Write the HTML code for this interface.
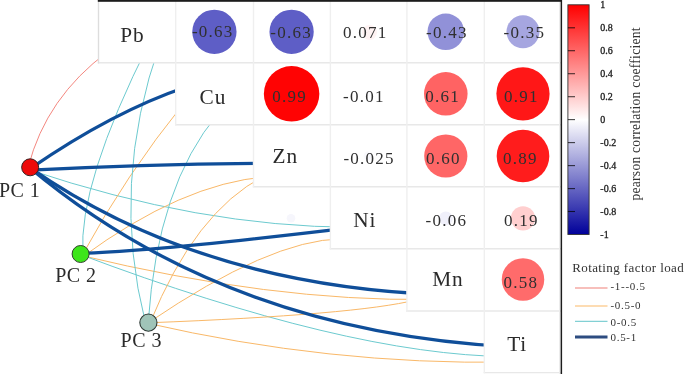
<!DOCTYPE html><html><head><meta charset="utf-8"><style>html,body{margin:0;padding:0;background:#fff;}svg{display:block;}text{font-family:"Liberation Serif", "Times New Roman", serif;}</style></head><body>
<svg width="685" height="374" viewBox="0 0 685 374">
<rect width="685" height="374" fill="#fff"/>
<path d="M28.3 166.8Q46.2 97.4 107.7 51.8" fill="none" stroke="#f4877f" stroke-width="1.0"/>
<path d="M28.7 169.6Q199.4 226.9 353.1 227.3" fill="none" stroke="#6ccacf" stroke-width="1.0"/>
<path d="M82.9 254.6Q78.1 183.9 149.6 42.2" fill="none" stroke="#6ccacf" stroke-width="1.0"/>
<path d="M82.2 255.3Q126.0 174.8 184.4 102.6" fill="none" stroke="#f9b868" stroke-width="1.0"/>
<path d="M82.2 257.1Q182.2 183.6 266.1 176.8" fill="none" stroke="#f9b868" stroke-width="1.0"/>
<path d="M79.7 255.1Q272.3 301.7 429.5 299.4" fill="none" stroke="#f9b868" stroke-width="1.0"/>
<path d="M79.0 254.0Q346.8 355.0 507.4 356.6" fill="none" stroke="#6ccacf" stroke-width="1.0"/>
<path d="M145.5 323.0Q110.0 184.0 160.3 42.7" fill="none" stroke="#6ccacf" stroke-width="1.0"/>
<path d="M148.2 322.5Q157.4 185.5 218.0 113.8" fill="none" stroke="#6ccacf" stroke-width="1.0"/>
<path d="M150.0 323.0Q195.0 212.0 263.6 176.3" fill="none" stroke="#f9b868" stroke-width="1.0"/>
<path d="M148.7 322.5Q270.3 239.9 340.8 238.9" fill="none" stroke="#f9b868" stroke-width="1.0"/>
<path d="M148.5 322.8Q356.3 314.8 415.7 300.0" fill="none" stroke="#f9b868" stroke-width="1.0"/>
<path d="M146.9 323.1Q329.6 365.1 509.9 362.1" fill="none" stroke="#f9b868" stroke-width="1.0"/>
<path d="M30.6 168.4Q113.0 111.6 186.8 86.7" fill="none" stroke="#0f4e99" stroke-width="3.3"/>
<path d="M30.3 170.2Q145.9 164.0 272.1 163.2" fill="none" stroke="#0f4e99" stroke-width="3.3"/>
<path d="M29.9 167.6Q199.6 285.8 441.8 294.7" fill="none" stroke="#0f4e99" stroke-width="3.3"/>
<path d="M29.7 167.8Q231.6 336.6 527.7 347.5" fill="none" stroke="#0f4e99" stroke-width="3.3"/>
<path d="M80.5 253.3Q151.3 251.8 360.3 226.7" fill="none" stroke="#0f4e99" stroke-width="3.3"/>
<polygon points="98.5,0.0 561.0,0.0 561.0,374.0 484.3,374.0 484.3,311.0 406.9,311.0 406.9,248.8 330.4,248.8 330.4,186.7 253.5,186.7 253.5,124.7 175.7,124.7 175.7,62.8 98.5,62.8" fill="#fff"/>
<line x1="97.8" y1="62.8" x2="561.0" y2="62.8" stroke="#e8e8e8" stroke-width="1.4"/>
<line x1="175.0" y1="124.7" x2="561.0" y2="124.7" stroke="#e8e8e8" stroke-width="1.4"/>
<line x1="252.8" y1="186.7" x2="561.0" y2="186.7" stroke="#e8e8e8" stroke-width="1.4"/>
<line x1="329.7" y1="248.8" x2="561.0" y2="248.8" stroke="#e8e8e8" stroke-width="1.4"/>
<line x1="406.2" y1="311.0" x2="561.0" y2="311.0" stroke="#e8e8e8" stroke-width="1.4"/>
<line x1="483.6" y1="372.6" x2="561.0" y2="372.6" stroke="#e8e8e8" stroke-width="1.4"/>
<line x1="98.5" y1="0" x2="98.5" y2="63.5" stroke="#dddddd" stroke-width="1.4"/>
<line x1="175.7" y1="0" x2="175.7" y2="125.4" stroke="#efefef" stroke-width="1.4"/>
<line x1="253.5" y1="0" x2="253.5" y2="187.4" stroke="#efefef" stroke-width="1.4"/>
<line x1="330.4" y1="0" x2="330.4" y2="249.5" stroke="#efefef" stroke-width="1.4"/>
<line x1="406.9" y1="0" x2="406.9" y2="311.7" stroke="#efefef" stroke-width="1.4"/>
<line x1="484.3" y1="0" x2="484.3" y2="373.3" stroke="#efefef" stroke-width="1.4"/>
<line x1="559.5" y1="0" x2="559.5" y2="374" stroke="#ececec" stroke-width="1"/>
<rect x="97.8" y="0" width="464.2" height="1.8" fill="#1c1c1c"/>
<rect x="560.6" y="0" width="1.5" height="374" fill="#1c1c1c"/>
<circle cx="214.4" cy="31.8" r="22.14" fill="rgb(94,94,198)"/>
<circle cx="291.6" cy="31.8" r="22.14" fill="rgb(94,94,198)"/>
<circle cx="369.5" cy="32.5" r="7.43" fill="rgb(255,243,243)"/>
<circle cx="445.8" cy="31.8" r="18.30" fill="rgb(145,145,216)"/>
<circle cx="523.0" cy="31.8" r="16.51" fill="rgb(166,166,224)"/>
<circle cx="291.6" cy="93.8" r="27.76" fill="rgb(255,3,3)"/>
<circle cx="368.0" cy="93.8" r="2.79" fill="rgb(252,252,254)"/>
<circle cx="445.8" cy="93.8" r="21.79" fill="rgb(255,99,99)"/>
<circle cx="523.0" cy="93.8" r="26.61" fill="rgb(255,23,23)"/>
<circle cx="368.0" cy="156.0" r="4.41" fill="rgb(249,249,253)"/>
<circle cx="445.8" cy="156.0" r="21.61" fill="rgb(255,102,102)"/>
<circle cx="523.0" cy="156.0" r="26.32" fill="rgb(255,28,28)"/>
<circle cx="445.8" cy="218.3" r="6.83" fill="rgb(240,240,250)"/>
<circle cx="523.0" cy="218.3" r="12.16" fill="rgb(255,207,207)"/>
<circle cx="523.0" cy="279.5" r="21.25" fill="rgb(255,107,107)"/>
<text x="191.9" y="37.4" font-size="17" letter-spacing="1.25" fill="#303030">-0.63</text>
<text x="270.3" y="37.6" font-size="17" letter-spacing="1.25" fill="#303030">-0.63</text>
<text x="343.0" y="37.7" font-size="17" letter-spacing="1.25" fill="#303030">0.071</text>
<text x="426.0" y="37.8" font-size="17" letter-spacing="1.25" fill="#303030">-0.43</text>
<text x="503.5" y="37.8" font-size="17" letter-spacing="1.25" fill="#303030">-0.35</text>
<text x="272.2" y="102.4" font-size="17" letter-spacing="1.25" fill="#303030">0.99</text>
<text x="343.1" y="102.2" font-size="17" letter-spacing="1.25" fill="#303030">-0.01</text>
<text x="425.3" y="102.4" font-size="17" letter-spacing="1.25" fill="#303030">0.61</text>
<text x="504.0" y="102.4" font-size="17" letter-spacing="1.25" fill="#303030">0.91</text>
<text x="343.4" y="164.0" font-size="17" letter-spacing="1.25" fill="#303030">-0.025</text>
<text x="425.9" y="164.0" font-size="17" letter-spacing="1.25" fill="#303030">0.60</text>
<text x="503.0" y="164.0" font-size="17" letter-spacing="1.25" fill="#303030">0.89</text>
<text x="425.6" y="225.9" font-size="17" letter-spacing="1.25" fill="#303030">-0.06</text>
<text x="503.9" y="225.9" font-size="17" letter-spacing="1.25" fill="#303030">0.19</text>
<text x="503.4" y="288.2" font-size="17" letter-spacing="1.25" fill="#303030">0.58</text>
<text x="120.2" y="41.5" font-size="21.3" letter-spacing="0.9" fill="#2b2b2b">Pb</text>
<text x="199.6" y="103.6" font-size="21.3" letter-spacing="0.9" fill="#2b2b2b">Cu</text>
<text x="272.5" y="162.8" font-size="21.3" letter-spacing="0.9" fill="#2b2b2b">Zn</text>
<text x="353.2" y="226.5" font-size="21.3" letter-spacing="0.9" fill="#2b2b2b">Ni</text>
<text x="432.2" y="286.2" font-size="21.3" letter-spacing="0.9" fill="#2b2b2b">Mn</text>
<text x="507.2" y="351.2" font-size="21.3" letter-spacing="0.9" fill="#2b2b2b">Ti</text>
<circle cx="30.15" cy="167.3" r="8.5" fill="#ee0a0a" stroke="#3a2222" stroke-width="1"/>
<circle cx="80.6" cy="254" r="8.5" fill="#3de61a" stroke="#334030" stroke-width="1"/>
<circle cx="148.4" cy="322.6" r="8.6" fill="#a0c4b8" stroke="#2f3a36" stroke-width="1.1"/>
<text x="-1.0" y="196.5" font-size="20" fill="#2b2b2b" letter-spacing="0.45">PC 1</text>
<text x="55.3" y="281.6" font-size="20" fill="#2b2b2b" letter-spacing="0.45">PC 2</text>
<text x="120.6" y="347.4" font-size="20" fill="#2b2b2b" letter-spacing="0.45">PC 3</text>
<defs><linearGradient id="cb" x1="0" y1="0" x2="0" y2="1"><stop offset="0" stop-color="#ff0000"/><stop offset="0.5" stop-color="#ffffff"/><stop offset="1" stop-color="#00009a"/></linearGradient></defs>
<rect x="567.9" y="4.8" width="21.2" height="229.7" fill="url(#cb)" stroke="#333" stroke-width="0.9"/>
<line x1="567.9" y1="27.8" x2="575" y2="27.8" stroke="rgba(0,0,0,0.72)" stroke-width="1.1"/>
<line x1="567.9" y1="50.7" x2="575" y2="50.7" stroke="rgba(0,0,0,0.72)" stroke-width="1.1"/>
<line x1="567.9" y1="73.7" x2="575" y2="73.7" stroke="rgba(0,0,0,0.72)" stroke-width="1.1"/>
<line x1="567.9" y1="96.7" x2="575" y2="96.7" stroke="rgba(0,0,0,0.72)" stroke-width="1.1"/>
<line x1="567.9" y1="119.6" x2="575" y2="119.6" stroke="rgba(0,0,0,0.72)" stroke-width="1.1"/>
<line x1="567.9" y1="142.6" x2="575" y2="142.6" stroke="rgba(0,0,0,0.72)" stroke-width="1.1"/>
<line x1="567.9" y1="165.6" x2="575" y2="165.6" stroke="rgba(0,0,0,0.72)" stroke-width="1.1"/>
<line x1="567.9" y1="188.6" x2="575" y2="188.6" stroke="rgba(0,0,0,0.72)" stroke-width="1.1"/>
<line x1="567.9" y1="211.5" x2="575" y2="211.5" stroke="rgba(0,0,0,0.72)" stroke-width="1.1"/>
<text x="600.3" y="8.1" font-size="10" fill="#222" stroke="#222" stroke-width="0.3">1</text>
<text x="600.3" y="31.1" font-size="10" fill="#222" stroke="#222" stroke-width="0.3">0.8</text>
<text x="600.3" y="54.0" font-size="10" fill="#222" stroke="#222" stroke-width="0.3">0.6</text>
<text x="600.3" y="77.0" font-size="10" fill="#222" stroke="#222" stroke-width="0.3">0.4</text>
<text x="600.3" y="100.0" font-size="10" fill="#222" stroke="#222" stroke-width="0.3">0.2</text>
<text x="600.3" y="122.9" font-size="10" fill="#222" stroke="#222" stroke-width="0.3">0</text>
<text x="600.3" y="145.9" font-size="10" fill="#222" stroke="#222" stroke-width="0.3">-0.2</text>
<text x="600.3" y="168.9" font-size="10" fill="#222" stroke="#222" stroke-width="0.3">-0.4</text>
<text x="600.3" y="191.9" font-size="10" fill="#222" stroke="#222" stroke-width="0.3">-0.6</text>
<text x="600.3" y="214.8" font-size="10" fill="#222" stroke="#222" stroke-width="0.3">-0.8</text>
<text x="600.3" y="237.8" font-size="10" fill="#222" stroke="#222" stroke-width="0.3">-1</text>
<text transform="translate(640.2,200.5) rotate(-90)" font-size="13.6" letter-spacing="0.24" fill="#333">pearson correlation coefficient</text>
<text x="572.2" y="272" font-size="13" fill="#333" letter-spacing="0.4">Rotating factor load</text>
<line x1="575" y1="288.0" x2="607.5" y2="288.0" stroke="#f5aaa5" stroke-width="1.5"/>
<text x="610.5" y="290.4" font-size="11" fill="#333" letter-spacing="0.7">-1--0.5</text>
<line x1="575" y1="306.0" x2="607.5" y2="306.0" stroke="#fcd09a" stroke-width="1.5"/>
<text x="610.5" y="308.7" font-size="11" fill="#333" letter-spacing="0.7">-0.5-0</text>
<line x1="575" y1="321.4" x2="607.5" y2="321.4" stroke="#82d0d4" stroke-width="1.2"/>
<text x="610.5" y="325.5" font-size="11" fill="#333" letter-spacing="0.7">0-0.5</text>
<line x1="575" y1="337.0" x2="607.5" y2="337.0" stroke="#2d4c80" stroke-width="3.2"/>
<text x="610.5" y="341.2" font-size="11" fill="#333" letter-spacing="0.7">0.5-1</text>
<circle cx="291" cy="218.2" r="4.3" fill="#f6f6fc"/>
</svg></body></html>
